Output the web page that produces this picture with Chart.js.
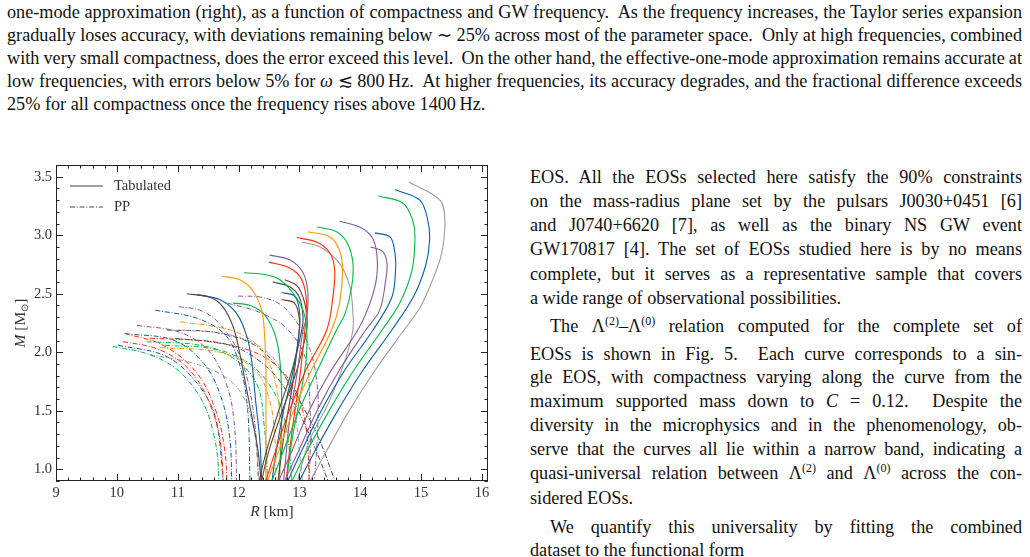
<!DOCTYPE html>
<html>
<head>
<meta charset="utf-8">
<script src="https://cdn.jsdelivr.net/npm/chart.js@4.4.0/dist/chart.umd.min.js"></script>
<style>
body { margin:0; width:1030px; height:557px; overflow:hidden; background:#fff; position:relative;
       font-family:"Liberation Serif","Times New Roman",serif; color:#111; }
.ln { position:absolute; font-size:18.2px; line-height:20px; white-space:nowrap; }
.top { left:7px; width:1015px; }
.col { left:530px; width:492px; }
sup { font-size:12px; line-height:0; vertical-align:7px; }
#chartBox { position:absolute; left:0; top:150px; width:500px; height:380px; }
</style>
</head>
<body>
<div class="ln j top" style="top:2px">one-mode approximation (right), as a function of compactness and GW frequency.&nbsp; As the frequency increases, the Taylor series expansion</div>
<div class="ln j top" style="top:25px">gradually loses accuracy, with deviations remaining below ∼ 25% across most of the parameter space.&nbsp; Only at high frequencies, combined</div>
<div class="ln j top" style="top:48px">with very small compactness, does the error exceed this level.&nbsp; On the other hand, the effective-one-mode approximation remains accurate at</div>
<div class="ln j top" style="top:71px">low frequencies, with errors below 5% for <i>ω</i> ≲ 800&#8201;Hz.&nbsp; At higher frequencies, its accuracy degrades, and the fractional difference exceeds</div>
<div class="ln top" style="top:94px">25% for all compactness once the frequency rises above 1400&#8201;Hz.</div>

<div class="ln j col" style="top:167px">EOS. All the EOSs selected here satisfy the 90% constraints</div>
<div class="ln j col" style="top:191px">on the mass-radius plane set by the pulsars J0030+0451 [6]</div>
<div class="ln j col" style="top:215px">and J0740+6620 [7], as well as the binary NS GW event</div>
<div class="ln j col" style="top:239px">GW170817 [4]. The set of EOSs studied here is by no means</div>
<div class="ln j col" style="top:264px">complete, but it serves as a representative sample that covers</div>
<div class="ln col" style="top:288px">a wide range of observational possibilities.</div>
<div class="ln j col" style="top:316px; left:550px; width:472px">The Λ<sup>(2)</sup>–Λ<sup>(0)</sup> relation computed for the complete set of</div>
<div class="ln j col" style="top:344px">EOSs is shown in Fig. 5.&nbsp; Each curve corresponds to a sin-</div>
<div class="ln j col" style="top:367px">gle EOS, with compactness varying along the curve from the</div>
<div class="ln j col" style="top:391px">maximum supported mass down to <i>C</i> = 0.12.&nbsp; Despite the</div>
<div class="ln j col" style="top:415px">diversity in the microphysics and in the phenomenology, ob-</div>
<div class="ln j col" style="top:439px">serve that the curves all lie within a narrow band, indicating a</div>
<div class="ln j col" style="top:463px">quasi-universal relation between Λ<sup>(2)</sup> and Λ<sup>(0)</sup> across the con-</div>
<div class="ln col" style="top:488px">sidered EOSs.</div>
<div class="ln j col" style="top:517px; left:550px; width:472px">We quantify this universality by fitting the combined</div>
<div class="ln col" style="top:540px">dataset to the functional form</div>

<div id="chartBox"><canvas id="mr"></canvas></div>

<script>
// justify each printed line to its column width by word spacing
document.querySelectorAll('.j').forEach(function (el) {
    var span = document.createElement('span');
    span.innerHTML = el.innerHTML;
    el.innerHTML = '';
    el.appendChild(span);
    var natural = span.getBoundingClientRect().width;
    var gaps = (el.textContent.match(/[ \u00a0]/g) || []).length;
    if (gaps) el.style.wordSpacing = ((el.clientWidth - natural) / gaps) + 'px';
});

// tabulated EOS curves, [R km, M Msun], from max mass downwards
var tabGreyBig   = [[14.80,3.455],[15.31,3.30],[15.39,3.13],[15.34,2.85],[15.19,2.62],[14.98,2.38],[14.72,2.19],[14.25,1.85],[13.83,1.51],[13.45,1.16],[13.18,0.90],[13.03,0.75]];
var tabBlueBig   = [[14.57,3.39],[14.98,3.30],[15.11,3.13],[15.14,2.96],[15.08,2.75],[14.89,2.49],[14.52,2.19],[14.05,1.85],[13.64,1.51],[13.26,1.16],[13.00,0.90],[12.87,0.75]];
var tabGreenBig  = [[14.30,3.335],[14.70,3.275],[14.86,3.13],[14.90,2.985],[14.85,2.70],[14.65,2.42],[14.36,2.19],[13.90,1.85],[13.50,1.51],[13.13,1.16],[12.88,0.90],[12.76,0.75]];
var tabBlueMid   = [[14.24,3.02],[14.49,2.985],[14.57,2.85],[14.58,2.70],[14.52,2.47],[14.21,2.19],[13.75,1.85],[13.37,1.51],[13.04,1.16],[12.81,0.90],[12.70,0.75]];
var tabPurpleSm  = [[14.17,2.90],[14.37,2.86],[14.44,2.76],[14.42,2.62],[14.32,2.36],[14.09,2.19],[13.66,1.85],[13.30,1.51],[12.99,1.16],[12.76,0.90],[12.66,0.75]];
var tabPurpleBig = [[13.66,3.12],[13.99,3.07],[14.19,2.985],[14.27,2.85],[14.27,2.64],[14.16,2.42],[13.96,2.19],[13.53,1.85],[13.17,1.51],[12.88,1.16],[12.66,0.90],[12.56,0.75]];
var tabGreenMid  = [[13.29,3.07],[13.61,3.03],[13.79,2.93],[13.88,2.76],[13.86,2.56],[13.75,2.33],[13.61,2.19],[13.30,1.85],[13.00,1.51],[12.74,1.16],[12.55,0.90],[12.46,0.75]];
var tabOrangeMid = [[13.14,3.03],[13.50,2.985],[13.66,2.87],[13.71,2.70],[13.66,2.42],[13.53,2.19],[13.20,1.85],[12.91,1.51],[12.66,1.16],[12.48,0.90],[12.40,0.75]];
var tabRedMid    = [[12.96,2.98],[13.29,2.94],[13.50,2.85],[13.58,2.70],[13.55,2.47],[13.45,2.19],[13.11,1.85],[12.84,1.51],[12.61,1.16],[12.45,0.90],[12.38,0.75]];
var tabGreyMid   = [[13.04,2.94],[13.34,2.90],[13.66,2.76],[13.83,2.56],[13.88,2.33],[13.88,2.19],[13.75,1.93],[13.50,1.59],[13.17,1.25],[12.97,0.90],[12.90,0.75]];
var tabGreenSm   = [[12.09,2.68],[12.47,2.66],[12.68,2.62],[12.89,2.51],[13.06,2.36],[13.12,2.19],[13.11,1.93],[13.00,1.59],[12.88,1.25],[12.79,0.90],[12.76,0.75]];
var tabPurpleLo  = [[12.51,2.83],[12.84,2.79],[13.06,2.68],[13.14,2.51],[13.12,2.30],[13.06,2.19],[12.97,1.85],[12.84,1.42],[12.74,0.90],[12.71,0.75]];
var tabRedLo     = [[12.50,2.77],[12.84,2.72],[13.04,2.62],[13.12,2.42],[13.09,2.19],[13.00,1.76],[12.88,1.33],[12.78,0.90],[12.75,0.75]];
var tabDarkA     = [[12.76,2.62],[12.96,2.57],[13.06,2.47],[13.12,2.33],[13.12,2.19],[12.96,1.85],[12.72,1.50],[12.50,1.16],[12.38,0.90],[12.34,0.75]];
var tabDarkB     = [[12.56,2.60],[12.84,2.56],[13.00,2.47],[13.06,2.30],[13.04,2.19],[12.88,1.85],[12.66,1.50],[12.46,1.16],[12.34,0.90],[12.30,0.75]];
var tabBlueSm    = [[12.71,2.51],[12.92,2.48],[13.00,2.36],[13.00,2.19],[12.90,1.85],[12.74,1.50],[12.62,1.16],[12.55,0.90],[12.52,0.75]];
var tabBrownSm   = [[12.71,2.45],[12.92,2.42],[13.00,2.28],[12.98,2.10],[12.88,1.70],[12.75,1.30],[12.65,0.90],[12.62,0.75]];
var tabBlackL    = [[11.15,2.50],[11.53,2.47],[11.74,2.39],[11.91,2.22],[12.02,1.99],[12.12,1.72],[12.23,1.42],[12.32,1.16],[12.37,0.90],[12.39,0.75]];
var tabBlueL     = [[11.32,2.49],[11.69,2.45],[11.97,2.33],[12.14,2.13],[12.22,1.91],[12.28,1.59],[12.35,1.25],[12.38,0.90],[12.39,0.75]];
var tabOrangeL   = [[11.73,2.65],[12.02,2.62],[12.23,2.53],[12.38,2.36],[12.43,2.13],[12.45,1.85],[12.45,1.42],[12.45,0.90],[12.45,0.75]];
var tabGreenL    = [[11.91,2.42],[12.19,2.40],[12.43,2.32],[12.60,2.15],[12.68,1.93],[12.71,1.59],[12.70,1.25],[12.66,0.90],[12.64,0.75]];

// piecewise-polytrope fits
var ppGreenA  = [[9.93,2.05],[10.48,1.99],[10.92,1.88],[11.25,1.71],[11.47,1.51],[11.60,1.28],[11.66,1.08],[11.68,0.85]];
var ppRedA    = [[10.10,2.09],[10.60,2.04],[11.02,1.93],[11.33,1.76],[11.55,1.53],[11.68,1.30],[11.73,1.08],[11.75,0.85]];
var ppRedB    = [[10.13,2.16],[10.76,2.06],[11.32,1.82],[11.64,1.48],[11.78,1.14],[11.81,0.85]];
var ppBlueA   = [[10.13,2.16],[10.95,2.10],[11.45,1.89],[11.73,1.59],[11.86,1.25],[11.89,0.85]];
var ppPurpleA = [[10.33,2.23],[11.04,2.17],[11.53,2.00],[11.83,1.68],[11.94,1.33],[11.97,0.85]];
var ppBlueB   = [[10.63,2.36],[11.32,2.29],[11.78,2.15],[12.02,1.89],[12.15,1.51],[12.19,0.85]];
var ppPurpleB = [[11.02,2.39],[11.36,2.36],[11.64,2.27],[11.94,2.06],[12.15,1.76],[12.28,1.33],[12.33,0.85]];
var ppPurpleC = [[11.99,2.48],[12.38,2.47],[12.71,2.40],[13.00,2.22],[13.20,1.98],[13.30,1.68],[13.30,1.33],[13.24,0.85]];
var ppPurpleD = [[11.82,2.42],[12.35,2.34],[12.80,2.20],[13.10,1.95],[13.17,1.60],[13.18,1.20],[13.15,0.85]];
var ppOrangeA = [[11.04,2.26],[11.61,2.22],[12.02,2.16],[12.38,2.02],[12.60,1.76],[12.68,1.42],[12.68,0.85]];
var ppGreyA   = [[11.07,2.19],[11.86,2.15],[12.43,2.02],[12.76,1.80],[12.92,1.51],[13.00,1.16],[13.06,0.85]];
var ppBlackA  = [[10.82,2.19],[11.61,2.17],[12.27,2.06],[12.68,1.85],[13.00,1.59],[13.33,1.25],[13.62,0.85]];
var ppBlackB  = [[10.95,2.12],[11.86,2.06],[12.43,1.89],[12.84,1.63],[13.17,1.29],[13.51,0.85]];
var ppGreenB  = [[10.49,2.09],[11.36,2.06],[12.10,1.93],[12.51,1.72],[12.76,1.42],[12.89,0.85]];
var ppRedC    = [[10.54,2.12],[11.53,2.09],[12.35,1.98],[12.84,1.76],[13.09,1.42],[13.17,0.85]];
var ppOrangeB = [[10.71,2.04],[11.69,2.00],[12.27,1.85],[12.51,1.59],[12.60,1.25],[12.61,0.85]];
var ppGreyB   = [[10.54,1.98],[11.36,1.89],[11.94,1.72],[12.22,1.42],[12.35,0.85]];
var ppBlueC   = [[10.02,2.06],[10.79,1.97],[11.28,1.76],[11.61,1.46],[11.76,0.85]];
var ppGreenC  = [[10.79,2.06],[11.69,2.01],[12.27,1.76],[12.43,1.33],[12.48,0.85]];

var xTicks = [9, 10, 11, 12, 13, 14, 15, 16];
var yTicks = [1.0, 1.5, 2.0, 2.5, 3.0, 3.5];

var C = { blue:'#0C5DA5', green:'#00B945', orange:'#FF9500', red:'#FF2C00',
          purple:'#845B97', dark:'#474747', grey:'#9e9e9e', brown:'#6b3d2a' };

var tabulated = [
  [tabGreyBig, C.grey], [tabBlueBig, C.blue], [tabGreenBig, C.green], [tabBlueMid, C.blue],
  [tabPurpleSm, C.purple], [tabPurpleBig, C.purple], [tabGreenMid, C.green], [tabOrangeMid, C.orange],
  [tabRedMid, C.red], [tabGreyMid, C.grey], [tabGreenSm, C.green], [tabPurpleLo, C.purple],
  [tabRedLo, C.red], [tabDarkA, C.brown], [tabDarkB, C.dark], [tabBlueSm, C.blue],
  [tabBrownSm, C.brown], [tabBlackL, C.dark], [tabBlueL, C.blue], [tabOrangeL, C.orange],
  [tabGreenL, C.green]
];
var piecewise = [
  [ppGreenA, C.green], [ppRedA, C.red], [ppRedB, C.red], [ppBlueA, C.blue], [ppPurpleA, C.purple],
  [ppBlueB, C.blue], [ppPurpleB, C.purple], [ppPurpleC, C.purple], [ppPurpleD, C.purple],
  [ppOrangeA, C.orange], [ppGreyA, C.grey], [ppBlackA, C.dark], [ppBlackB, C.dark],
  [ppGreenB, C.green], [ppRedC, C.red], [ppOrangeB, C.orange], [ppGreyB, C.grey],
  [ppBlueC, C.blue], [ppGreenC, C.green]
];

function toXY(pts) {
    return pts.map(function (p) { return { x: p[0], y: p[1] }; });
}

var datasets = [];
tabulated.forEach(function (t) {
    datasets.push({ data: toXY(t[0]), borderColor: t[1], borderWidth: 1.1, showLine: true,
                    pointRadius: 0, tension: 0.35, fill: false });
});
piecewise.forEach(function (t) {
    datasets.push({ data: toXY(t[0]), borderColor: t[1], borderWidth: 1, borderDash: [5, 1.8, 1, 1.8],
                    showLine: true, pointRadius: 0, tension: 0.35, fill: false });
});

var serif = '"Liberation Serif", "Times New Roman", serif';

// box, inward ticks on all sides, legend and axis titles
var framePlugin = {
    id: 'frame',
    afterDatasetsDraw: function (chart) {
        var ctx = chart.ctx, a = chart.chartArea, x = chart.scales.x, y = chart.scales.y;
        ctx.save();
        ctx.strokeStyle = '#222';
        ctx.lineWidth = 1;
        ctx.strokeRect(a.left + 0.5, a.top + 0.5, a.right - a.left - 1, a.bottom - a.top - 1);
        ctx.beginPath();
        for (var i = 0; i <= 35; i++) {
            var px = Math.round(x.getPixelForValue(9 + i * 0.2)) + 0.5;
            var len = i % 5 === 0 ? 7 : 3.5;
            ctx.moveTo(px, a.bottom); ctx.lineTo(px, a.bottom - len);
            ctx.moveTo(px, a.top); ctx.lineTo(px, a.top + len);
        }
        for (var j = 0; j <= 27; j++) {
            var py = Math.round(y.getPixelForValue(0.9 + j * 0.1)) + 0.5;
            var l2 = (j - 1) % 5 === 0 ? 7 : 3.5;
            ctx.moveTo(a.left, py); ctx.lineTo(a.left + l2, py);
            ctx.moveTo(a.right, py); ctx.lineTo(a.right - l2, py);
        }
        ctx.stroke();

        // legend
        ctx.strokeStyle = '#474747';
        ctx.lineWidth = 1.1;
        ctx.beginPath(); ctx.moveTo(70, 36); ctx.lineTo(103, 36); ctx.stroke();
        ctx.setLineDash([5, 1.8, 1, 1.8]);
        ctx.beginPath(); ctx.moveTo(70, 57); ctx.lineTo(103, 57); ctx.stroke();
        ctx.setLineDash([]);
        ctx.fillStyle = '#333';
        ctx.font = '14.5px ' + serif;
        ctx.textBaseline = 'middle';
        ctx.fillText('Tabulated', 114, 36);
        ctx.fillText('PP', 114, 57);

        // x title
        ctx.textBaseline = 'alphabetic';
        var it = 'italic 15.5px ' + serif, rm = '15.5px ' + serif;
        ctx.font = it; var wR = ctx.measureText('R').width;
        ctx.font = rm; var wK = ctx.measureText(' [km]').width;
        var xs = (a.left + a.right) / 2 - (wR + wK) / 2;
        ctx.font = it; ctx.fillText('R', xs, 366);
        ctx.font = rm; ctx.fillText(' [km]', xs + wR, 366);

        // y title
        ctx.save();
        ctx.translate(25, (a.top + a.bottom) / 2);
        ctx.rotate(-Math.PI / 2);
        ctx.font = it; var wM = ctx.measureText('M').width;
        ctx.font = rm; var w1 = ctx.measureText(' [M').width;
        ctx.font = '10px ' + serif; var wS = ctx.measureText('⊙').width;
        ctx.font = rm; var w2 = ctx.measureText(']').width;
        var s = -(wM + w1 + wS + w2) / 2;
        ctx.font = it; ctx.fillText('M', s, 0);
        ctx.font = rm; ctx.fillText(' [M', s + wM, 0);
        ctx.font = '10px ' + serif; ctx.fillText('⊙', s + wM + w1, 3);
        ctx.font = rm; ctx.fillText(']', s + wM + w1 + wS, 0);
        ctx.restore();
        ctx.restore();
    }
};

new Chart(document.getElementById('mr'), {
    type: 'scatter',
    data: { datasets: datasets },
    options: {
        responsive: true,
        maintainAspectRatio: false,
        animation: false,
        layout: { padding: { top: 15, right: 12, left: 0, bottom: 0 } },
        plugins: { legend: { display: false }, tooltip: { enabled: false } },
        scales: {
            x: {
                type: 'linear', min: 9, max: 16.1,
                grid: { display: false, drawTicks: false, tickLength: 0 }, border: { display: false },
                afterBuildTicks: function (s) { s.ticks = xTicks.map(function (v) { return { value: v }; }); },
                afterFit: function (s) { s.height = 49; },
                ticks: { padding: 3, color: '#333', font: { family: serif, size: 14.5 },
                         maxRotation: 0, callback: function (v) { return String(v); } }
            },
            y: {
                type: 'linear', min: 0.9, max: 3.6,
                grid: { display: false, drawTicks: false, tickLength: 0 }, border: { display: false },
                afterBuildTicks: function (s) { s.ticks = yTicks.map(function (v) { return { value: v }; }); },
                afterFit: function (s) { s.width = 56; },
                ticks: { padding: 4, color: '#333', font: { family: serif, size: 14.5 },
                         callback: function (v) { return v.toFixed(1); } }
            }
        }
    },
    plugins: [framePlugin]
});
</script>
</body>
</html>
